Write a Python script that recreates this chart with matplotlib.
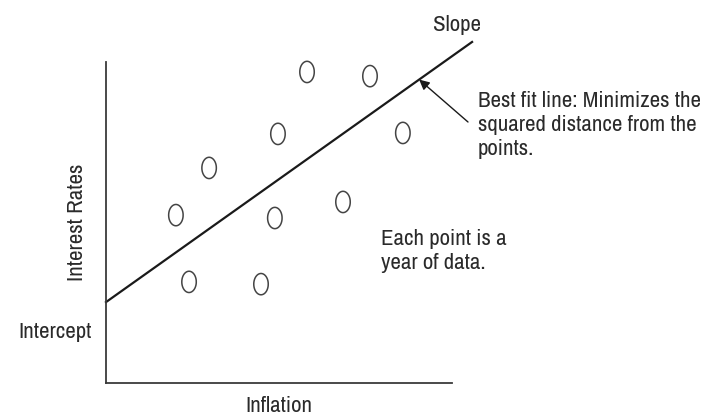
import numpy as np
import matplotlib.pyplot as plt
from matplotlib.path import Path

plt.rcParams['font.family'] = ['Archivo Narrow', 'DejaVu Sans']

# data points (inflation, interest rate)
inflation = [2.02, 2.40, 2.98, 4.48, 4.88, 4.97, 5.81, 6.85, 7.63, 8.58]
interest = [5.23, 3.15, 6.70, 3.08, 5.14, 7.76, 9.69, 5.64, 9.56, 7.79]

# best fit line
intercept = 2.52
slope = 0.766
line_x = [0, 10.58]

W, H = 707, 417
fig = plt.figure(figsize=(W / 100, H / 100), dpi=100)

def fx(px):
    return px / W

def fy(py):
    return 1 - py / H

ax = fig.add_axes([fx(106), fy(383), (452 - 106) / W, (383 - 62) / H])
ax.set_xlim(0, 10)
ax.set_ylim(0, 10)
ax.spines['top'].set_visible(False)
ax.spines['right'].set_visible(False)
for s in ['left', 'bottom']:
    ax.spines[s].set_color('#3a3a3a')
    ax.spines[s].set_linewidth(1.3)
ax.set_xticks([])
ax.set_yticks([])

# ellipse marker, taller than wide
t = np.linspace(0, 2 * np.pi, 60)
oval = Path(np.column_stack([0.68 * np.cos(t), np.sin(t)]))

ax.scatter(inflation, interest, marker=oval, s=235, facecolors='none',
           edgecolors='#444444', linewidths=1.1, zorder=3, clip_on=False)

lx = np.array(line_x)
ax.plot(lx, intercept + slope * lx, color='#1a1a1a', lw=1.6, clip_on=False)

tc = '#2a2a2a'
fs = 16.5
fig.text(fx(279), fy(406), 'Inflation', fontsize=fs, color=tc, ha='center', va='center')
fig.text(fx(77), fy(222), 'Interest Rates', fontsize=fs, color=tc, ha='center', va='center',
         rotation=90)
fig.text(fx(92), fy(332), 'Intercept', fontsize=fs, color=tc, ha='right', va='center')
fig.text(fx(457), fy(25), 'Slope', fontsize=fs, color=tc, ha='center', va='center')
fig.text(fx(381), fy(251), 'Each point is a\nyear of data.', fontsize=fs, color=tc,
         ha='left', va='center', linespacing=1.25)
fig.text(fx(478), fy(125), 'Best fit line: Minimizes the\nsquared distance from the\npoints.',
         fontsize=fs, color=tc, ha='left', va='center', linespacing=1.25)

hx = 9.05
ax.annotate('', xy=(hx, intercept + slope * hx), xycoords='data',
            xytext=(468, H - 122), textcoords='figure pixels',
            arrowprops=dict(arrowstyle='-|>', color='#1a1a1a', lw=1.0,
                            mutation_scale=15, shrinkA=0, shrinkB=0))

fig.savefig('out.png', dpi=100)
